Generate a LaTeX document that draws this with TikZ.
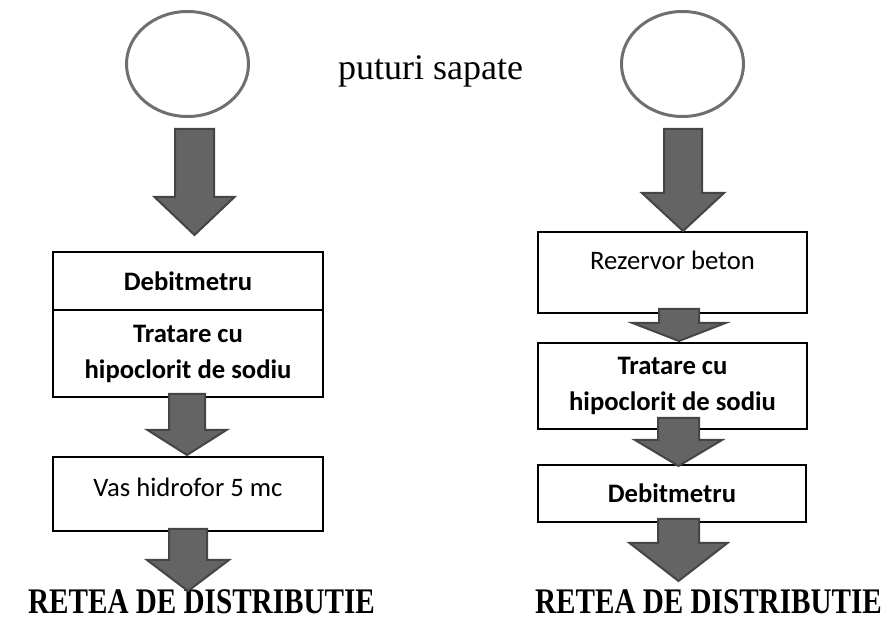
\documentclass[tikz,border=0pt]{standalone}
\usepackage{fontspec}
\setmainfont{Liberation Serif}
\newfontfamily\calibri{Carlito}
\usetikzlibrary{shapes.geometric}
\definecolor{wellgray}{HTML}{6F6F6F}
\definecolor{arrowfill}{HTML}{646464}
\definecolor{arrowedge}{HTML}{454545}
\tikzset{
  well/.style={ellipse, draw=wellgray, line width=2.25pt, minimum width=91.5pt, minimum height=78.75pt, inner sep=0pt},
  stage/.style={rectangle, draw=black, line width=1pt, align=center, inner sep=0pt, font=\calibri\fontsize{20}{27}\selectfont},
  fatarrow/.style={fill=arrowfill, draw=arrowedge, line width=1.5pt, line join=miter},
  title/.style={font=\fontsize{27}{32}\selectfont},
  outlet/.style={font=\bfseries\fontsize{27}{32}\selectfont, xscale=0.81, inner sep=0pt}
}
% cx, top, head start, tip, shaft half width, head half width
\newcommand{\flowarrow}[6]{%
  \draw[fatarrow] ({#1-#5},#2) -- ({#1+#5},#2) -- ({#1+#5},#3) -- ({#1+#6},#3)
    -- (#1,#4) -- ({#1-#6},#3) -- ({#1-#5},#3) -- cycle;}

\begin{document}
\begin{tikzpicture}[x=0.75pt,y=-0.75pt]
	\useasboundingbox (0,0) rectangle (894,620);
	%%  wells  %%%%%%%%
	\node[well] (wellL) at (187.5,64) {};
	\node[well] (wellR) at (682.5,64) {};
	\node[title, anchor=base] (wells) at (430.5,80) {puturi sapate};
	%%  left line  %%%%%%%%
	\node[stage, minimum width=202.5pt, minimum height=43.5pt] (debitL) at (188,281) {\bfseries Debitmetru};
	\node[stage, minimum width=202.5pt, minimum height=65.25pt] (tratL) at (188,353.5) {\bfseries Tratare cu\\\bfseries hipoclorit de sodiu};
	\node[stage, minimum width=202.5pt, minimum height=55.5pt, text depth=10.5pt] (vasL) at (188,494) {Vas hidrofor 5 mc};
	\node[outlet, anchor=base] (reteaL) at (201.5,614) {RETEA DE DISTRIBUTIE};
	%%  right line  %%%%%%%%
	\node[stage, minimum width=201.75pt, minimum height=60.75pt, text depth=18.75pt] (rezR) at (672.5,272.5) {Rezervor beton};
	\node[stage, minimum width=201.75pt, minimum height=64.5pt] (tratR) at (672.5,386) {\bfseries Tratare cu\\\bfseries hipoclorit de sodiu};
	\node[stage, minimum width=201pt, minimum height=42.75pt] (debitR) at (672,493.5) {\bfseries Debitmetru};
	\node[outlet, anchor=base] (reteaR) at (708.5,614) {RETEA DE DISTRIBUTIE};
	%%  arrows  %%%%%%%%
	\flowarrow{194.5}{129}{197}{235}{19.5}{40}
	\flowarrow{187}{394}{430}{455}{18}{39.5}
	\flowarrow{188}{529}{560}{591}{19}{41}
	\flowarrow{683}{129}{193}{231}{19}{41}
	\flowarrow{679}{309}{323}{341}{20}{46.5}
	\flowarrow{678.5}{418}{440}{466}{20.5}{43.5}
	\flowarrow{678.5}{519}{543}{581}{20.5}{49}
	%%%%%%%%%%%%%%%
\end{tikzpicture}
\end{document}
